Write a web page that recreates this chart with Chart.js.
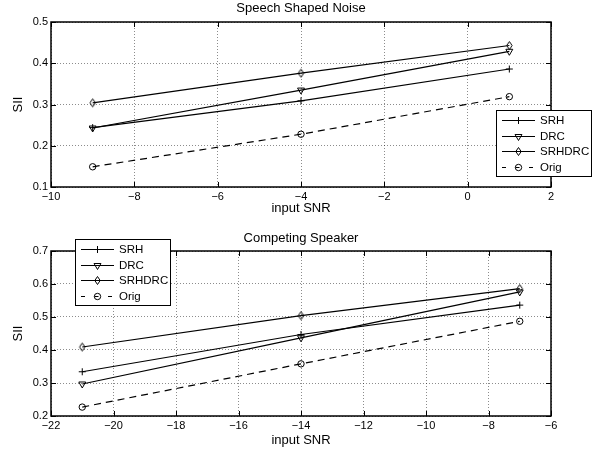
<!DOCTYPE html>
<html lang="en">
<head>
<meta charset="UTF-8">
<title>SII vs input SNR</title>
<script src="https://cdn.jsdelivr.net/npm/chart.js"></script>
<style>
  html, body { margin: 0; padding: 0; background: #fff; }
  #wrap { position: relative; width: 597px; height: 452px; }
  canvas { position: absolute; left: 0; }
</style>
</head>
<body>
<div id="wrap">
  <canvas id="noiseChart" width="597" height="226" style="top:0"></canvas>
  <canvas id="speakerChart" width="597" height="226" style="top:226px"></canvas>
</div>
<script>
// speech shaped noise
const snrNoise = [-9, -4, 1];
const srhNoise = [0.244, 0.309, 0.386];
const drcNoise = [0.243, 0.335, 0.429];
const srhdrcNoise = [0.304, 0.376, 0.443];
const origNoise = [0.149, 0.228, 0.319];

// competing speaker
const snrSpeaker = [-21, -14, -7];
const srhSpeaker = [0.334, 0.447, 0.536];
const drcSpeaker = [0.297, 0.437, 0.576];
const srhdrcSpeaker = [0.409, 0.504, 0.586];
const origSpeaker = [0.227, 0.358, 0.487];

const seriesNames = ['SRH', 'DRC', 'SRHDRC', 'Orig'];

const FONT = "'Liberation Sans', Arial, Helvetica, sans-serif";

// tall hollow diamond, like matlab's 'd' marker
function diamondMarker() {
    const c = document.createElement('canvas');
    c.width = 9; c.height = 11;
    const g = c.getContext('2d');
    g.strokeStyle = '#000';
    g.lineWidth = 1;
    g.beginPath();
    g.moveTo(4.5, 1.5); g.lineTo(7.2, 5.5); g.lineTo(4.5, 9.5); g.lineTo(1.8, 5.5); g.closePath();
    g.stroke();
    return c;
}
const diamond = diamondMarker();

const markerStyles = [
    { pointStyle: 'cross', radius: 3.5, rotation: 0 },
    { pointStyle: 'triangle', radius: 4, rotation: 180 },
    { pointStyle: diamond, radius: 4, rotation: 0 },
    { pointStyle: 'circle', radius: 3.2, rotation: 0 }
];

function makeDatasets(xs, series) {
    return series.map((ys, i) => ({
        label: seriesNames[i],
        data: xs.map((x, j) => ({ x: x, y: ys[j] })),
        borderColor: '#000',
        borderWidth: 1.2,
        borderDash: i === 3 ? [7, 5] : [],
        pointStyle: markerStyles[i].pointStyle,
        pointRadius: markerStyles[i].radius,
        pointRotation: markerStyles[i].rotation,
        pointBorderColor: '#000',
        pointBackgroundColor: 'rgba(0,0,0,0)',
        pointBorderWidth: 1,
        tension: 0
    }));
}

function drawMarker(ctx, i, x, y) {
    const m = markerStyles[i];
    ctx.save();
    ctx.strokeStyle = '#000';
    ctx.fillStyle = 'rgba(0,0,0,0)';
    ctx.lineWidth = 1;
    ctx.setLineDash([]);
    Chart.helpers.drawPoint(ctx, { pointStyle: m.pointStyle, radius: m.radius, rotation: m.rotation, borderWidth: 1 }, x, y);
    ctx.restore();
}

// box, inward ticks, titles and the legend, matlab style
function framePlugin(o) {
    return {
        id: 'frame',
        afterDraw(chart) {
            const ctx = chart.ctx;
            const a = chart.chartArea;
            const xs = chart.scales.x, ys = chart.scales.y;
            ctx.save();
            ctx.strokeStyle = '#000';
            ctx.lineWidth = 1;
            ctx.setLineDash([]);
            const tl = 5;
            ctx.beginPath();
            xs.ticks.forEach(t => {
                const px = Math.round(xs.getPixelForValue(t.value)) + 0.5;
                ctx.moveTo(px, a.bottom); ctx.lineTo(px, a.bottom - tl);
                ctx.moveTo(px, a.top); ctx.lineTo(px, a.top + tl);
            });
            ys.ticks.forEach(t => {
                const py = Math.round(ys.getPixelForValue(t.value)) + 0.5;
                ctx.moveTo(a.left, py); ctx.lineTo(a.left + tl, py);
                ctx.moveTo(a.right, py); ctx.lineTo(a.right - tl, py);
            });
            ctx.stroke();
            ctx.lineWidth = 1.5;
            ctx.strokeRect(Math.round(a.left), Math.round(a.top), Math.round(a.right - a.left), Math.round(a.bottom - a.top));

            // titles
            ctx.fillStyle = '#000';
            ctx.font = '13px ' + FONT;
            ctx.textAlign = 'center';
            ctx.textBaseline = 'middle';
            const cx = (a.left + a.right) / 2;
            ctx.fillText(o.title, cx, o.titleY);
            ctx.fillText('input SNR', cx, o.xLabelY);
            ctx.save();
            ctx.translate(18, (a.top + a.bottom) / 2);
            ctx.rotate(-Math.PI / 2);
            ctx.fillText('SII', 0, 0);
            ctx.restore();

            // legend
            const L = o.legend;
            ctx.fillStyle = '#fff';
            ctx.fillRect(L.x, L.y, L.w, L.h);
            ctx.lineWidth = 1;
            ctx.strokeStyle = '#000';
            ctx.strokeRect(L.x + 0.5, L.y + 0.5, L.w, L.h);
            ctx.font = '11.5px ' + FONT;
            ctx.textAlign = 'left';
            seriesNames.forEach((name, i) => {
                const ry = Math.round(L.y + 10 + i * 15.7) + 0.5;
                ctx.save();
                ctx.strokeStyle = '#000';
                ctx.lineWidth = 1.1;
                ctx.setLineDash(i === 3 ? [4, 9.5] : []);
                ctx.beginPath();
                ctx.moveTo(L.x + 6, ry); ctx.lineTo(L.x + 39, ry);
                ctx.stroke();
                ctx.restore();
                drawMarker(ctx, i, L.x + 22.5, ry);
                ctx.fillStyle = '#000';
                ctx.fillText(name, L.x + 44, ry);
            });
            ctx.restore();
        }
    };
}

function fmtX(v) { return v < 0 ? '\u2212' + Math.abs(v) : String(v); }
function fmtY(v) { return (Math.round(v * 10) / 10).toFixed(1); }

function makeChart(id, xs, series, xr, yr, o) {
    return new Chart(document.getElementById(id), {
        type: 'line',
        data: { datasets: makeDatasets(xs, series) },
        options: {
            responsive: false,
            animation: false,
            events: [],
            layout: { padding: { left: 0, right: 46, top: o.top, bottom: 0 } },
            plugins: { legend: { display: false }, title: { display: false }, tooltip: { enabled: false } },
            scales: {
                x: {
                    type: 'linear', min: xr[0], max: xr[1],
                    afterFit: s => { s.height = o.xHeight; },
                    ticks: { stepSize: 2, autoSkip: false, maxRotation: 0, padding: 3, color: '#000', font: { family: FONT, size: 11 }, callback: fmtX },
                    grid: { color: 'rgba(0,0,0,0.45)', lineWidth: 1, drawTicks: false },
                    border: { display: false, dash: [1, 2] }
                },
                y: {
                    type: 'linear', min: yr[0], max: yr[1],
                    afterFit: s => { s.width = 51; },
                    ticks: { stepSize: 0.1, autoSkip: false, padding: 3, color: '#000', font: { family: FONT, size: 11 }, callback: fmtY },
                    grid: { color: 'rgba(0,0,0,0.45)', lineWidth: 1, drawTicks: false },
                    border: { display: false, dash: [1, 2] }
                }
            }
        },
        plugins: [framePlugin(o)]
    });
}

makeChart('noiseChart', snrNoise, [srhNoise, drcNoise, srhdrcNoise, origNoise], [-10, 2], [0.1, 0.5], {
    top: 22, xHeight: 39, title: 'Speech Shaped Noise', titleY: 8, xLabelY: 208,
    legend: { x: 496, y: 110, w: 95, h: 66 }
});

makeChart('speakerChart', snrSpeaker, [srhSpeaker, drcSpeaker, srhdrcSpeaker, origSpeaker], [-22, -6], [0.2, 0.7], {
    top: 25, xHeight: 36, title: 'Competing Speaker', titleY: 12, xLabelY: 214,
    legend: { x: 75, y: 13, w: 95, h: 66 }
});
</script>
</body>
</html>
